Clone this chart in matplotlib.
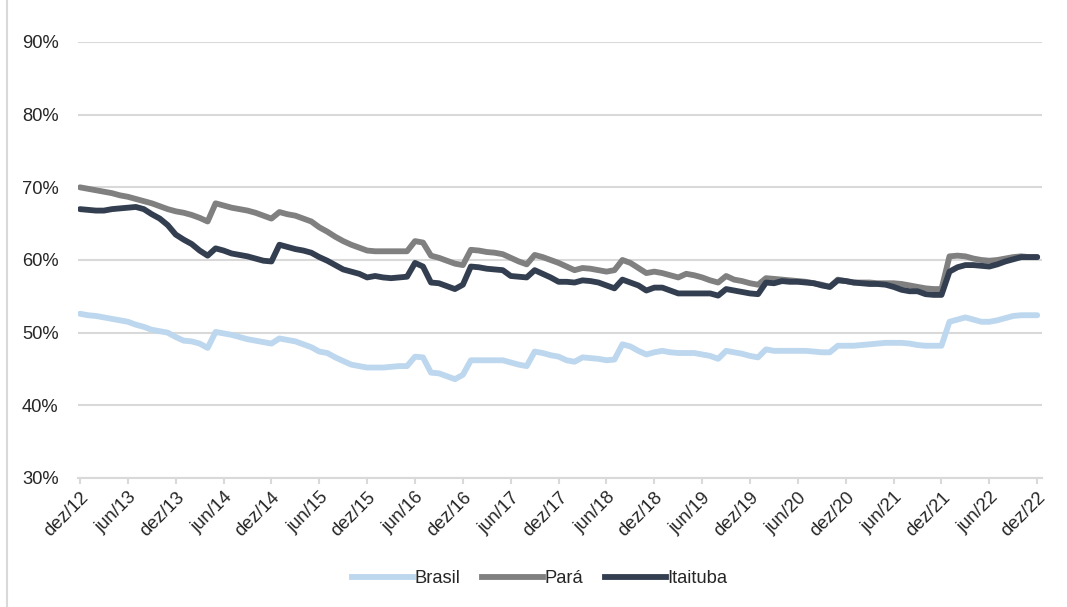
import matplotlib
matplotlib.use("Agg")
import matplotlib.pyplot as plt
from matplotlib.lines import Line2D

plt.rcParams['font.family'] = ['Liberation Sans', 'DejaVu Sans']

# monthly series, dez/12 .. dez/22 (percent)
brasil = [52.6, 52.4, 52.3, 52.1, 51.9, 51.7, 51.5, 51.1, 50.8, 50.4, 50.2, 50.0,
          49.4, 48.9, 48.8, 48.5, 47.9, 50.1, 49.9, 49.7, 49.4, 49.1, 48.9, 48.7,
          48.5, 49.2, 49.0, 48.8, 48.4, 48.0, 47.4, 47.2, 46.6, 46.1, 45.6, 45.4,
          45.2, 45.2, 45.2, 45.3, 45.4, 45.4, 46.7, 46.6, 44.5, 44.4, 44.0, 43.6,
          44.2, 46.2, 46.2, 46.2, 46.2, 46.2, 45.9, 45.6, 45.4, 47.4, 47.2, 46.9,
          46.7, 46.2, 46.0, 46.6, 46.5, 46.4, 46.2, 46.3, 48.4, 48.1, 47.5, 47.0,
          47.3, 47.5, 47.3, 47.2, 47.2, 47.2, 47.0, 46.8, 46.4, 47.5, 47.3, 47.1,
          46.8, 46.6, 47.7, 47.5, 47.5, 47.5, 47.5, 47.5, 47.4, 47.3, 47.3, 48.2,
          48.2, 48.2, 48.3, 48.4, 48.5, 48.6, 48.6, 48.6, 48.5, 48.3, 48.2, 48.2,
          48.2, 51.5, 51.8, 52.1, 51.8, 51.5, 51.5, 51.7, 52.0, 52.3, 52.4, 52.4,
          52.4]

para = [70.0, 69.8, 69.6, 69.4, 69.2, 68.9, 68.7, 68.4, 68.1, 67.8, 67.4, 67.0,
        66.7, 66.5, 66.2, 65.8, 65.3, 67.8, 67.5, 67.2, 67.0, 66.8, 66.5, 66.1,
        65.7, 66.6, 66.3, 66.1, 65.7, 65.3, 64.5, 63.9, 63.2, 62.6, 62.1, 61.7,
        61.3, 61.2, 61.2, 61.2, 61.2, 61.2, 62.6, 62.4, 60.6, 60.3, 59.9, 59.5,
        59.3, 61.4, 61.3, 61.1, 61.0, 60.8, 60.3, 59.8, 59.4, 60.7, 60.4, 60.0,
        59.6, 59.1, 58.6, 58.9, 58.8, 58.6, 58.4, 58.6, 60.0, 59.6, 58.9, 58.2,
        58.4, 58.2, 57.9, 57.6, 58.1, 57.9, 57.6, 57.2, 56.9, 57.8, 57.3, 57.1,
        56.8, 56.6, 57.5, 57.4, 57.3, 57.2, 57.1, 57.0, 56.8, 56.6, 56.3, 57.3,
        57.1, 56.9, 56.9, 56.9, 56.8, 56.8, 56.8, 56.7, 56.5, 56.3, 56.1, 56.0,
        56.0, 60.5, 60.6, 60.5, 60.2, 60.0, 59.9, 60.0, 60.2, 60.4, 60.5, 60.4,
        60.4]

itaituba = [67.0, 66.9, 66.8, 66.8, 67.0, 67.1, 67.2, 67.3, 67.0, 66.3, 65.7, 64.8,
            63.5, 62.8, 62.2, 61.3, 60.6, 61.6, 61.3, 60.9, 60.7, 60.5, 60.2, 59.9,
            59.8, 62.1, 61.8, 61.5, 61.3, 61.0, 60.4, 59.9, 59.3, 58.7, 58.4, 58.1,
            57.6, 57.8, 57.6, 57.5, 57.6, 57.7, 59.6, 59.1, 56.9, 56.8, 56.4, 56.0,
            56.6, 59.1, 59.0, 58.8, 58.7, 58.6, 57.8, 57.7, 57.6, 58.6, 58.1, 57.6,
            57.0, 57.0, 56.9, 57.2, 57.1, 56.9, 56.5, 56.1, 57.3, 56.9, 56.5, 55.8,
            56.2, 56.2, 55.8, 55.4, 55.4, 55.4, 55.4, 55.4, 55.1, 56.0, 55.8, 55.6,
            55.4, 55.3, 56.9, 56.8, 57.1, 57.0, 57.0, 56.9, 56.8, 56.5, 56.3, 57.2,
            57.1, 56.9, 56.8, 56.7, 56.7, 56.6, 56.3, 55.9, 55.7, 55.7, 55.3, 55.2,
            55.2, 58.4, 59.0, 59.3, 59.3, 59.2, 59.1, 59.4, 59.8, 60.1, 60.4, 60.4,
            60.4]

meses = ['jan', 'fev', 'mar', 'abr', 'mai', 'jun', 'jul', 'ago', 'set', 'out', 'nov', 'dez']
# labels every 6 months starting at dez/12
tick_pos = list(range(0, 121, 6))
tick_labels = []
for p in tick_pos:
    m = (11 + p) % 12
    y = 12 + (11 + p) // 12
    tick_labels.append(f"{meses[m]}/{y:02d}")

y_ticks = [30, 40, 50, 60, 70, 80, 90]

c_brasil = '#BDD7EE'
c_para = '#808080'
c_itai = '#333F50'
c_grid = '#D9D9D9'
c_text = '#262626'
fs = 13.2

fig = plt.figure(figsize=(10.67, 6.07), dpi=100)
ax = fig.add_axes([78 / 1067, 1 - 478 / 607, 964 / 1067, 436 / 607])

x = list(range(len(brasil)))
lw = 4.2
ax.plot(x, brasil, color=c_brasil, lw=lw, solid_capstyle='round', solid_joinstyle='round', label='Brasil')
ax.plot(x, para, color=c_para, lw=lw, solid_capstyle='round', solid_joinstyle='round', label='Pará')
ax.plot(x, itaituba, color=c_itai, lw=lw, solid_capstyle='round', solid_joinstyle='round', label='Itaituba')

ax.set_xlim(-0.25, 120.6)
ax.set_ylim(30, 90)
ax.set_yticks(y_ticks)
ax.set_yticklabels([f"{v}%" for v in y_ticks])
ax.set_xticks(tick_pos)
ax.set_xticklabels(tick_labels, rotation=45, ha='right', va='top', rotation_mode='anchor')

ax.grid(axis='y', color=c_grid, lw=1.5)
ax.set_axisbelow(True)
for s in ['top', 'right', 'left']:
    ax.spines[s].set_visible(False)
ax.spines['bottom'].set_color(c_grid)
ax.spines['bottom'].set_linewidth(1.5)
ax.tick_params(axis='y', length=0, pad=14, labelsize=fs, labelcolor=c_text)
ax.tick_params(axis='x', length=4, width=1.5, color=c_grid, pad=4, labelsize=fs, labelcolor=c_text)

handles = [Line2D([], [], color=c, lw=lw) for c in (c_brasil, c_para, c_itai)]
fig.legend(handles, ['Brasil', 'Pará', 'Itaituba'], loc='center', bbox_to_anchor=(0.506, 0.047),
           ncol=3, frameon=False, fontsize=fs, handlelength=3.3, handletextpad=0.1,
           columnspacing=1.2, labelcolor=c_text)

# chart-area border on the left
fig.add_artist(Line2D([7 / 1067, 7 / 1067], [0, 1], color=c_grid, lw=1.5, transform=fig.transFigure))

fig.savefig('out.png', dpi=100)
